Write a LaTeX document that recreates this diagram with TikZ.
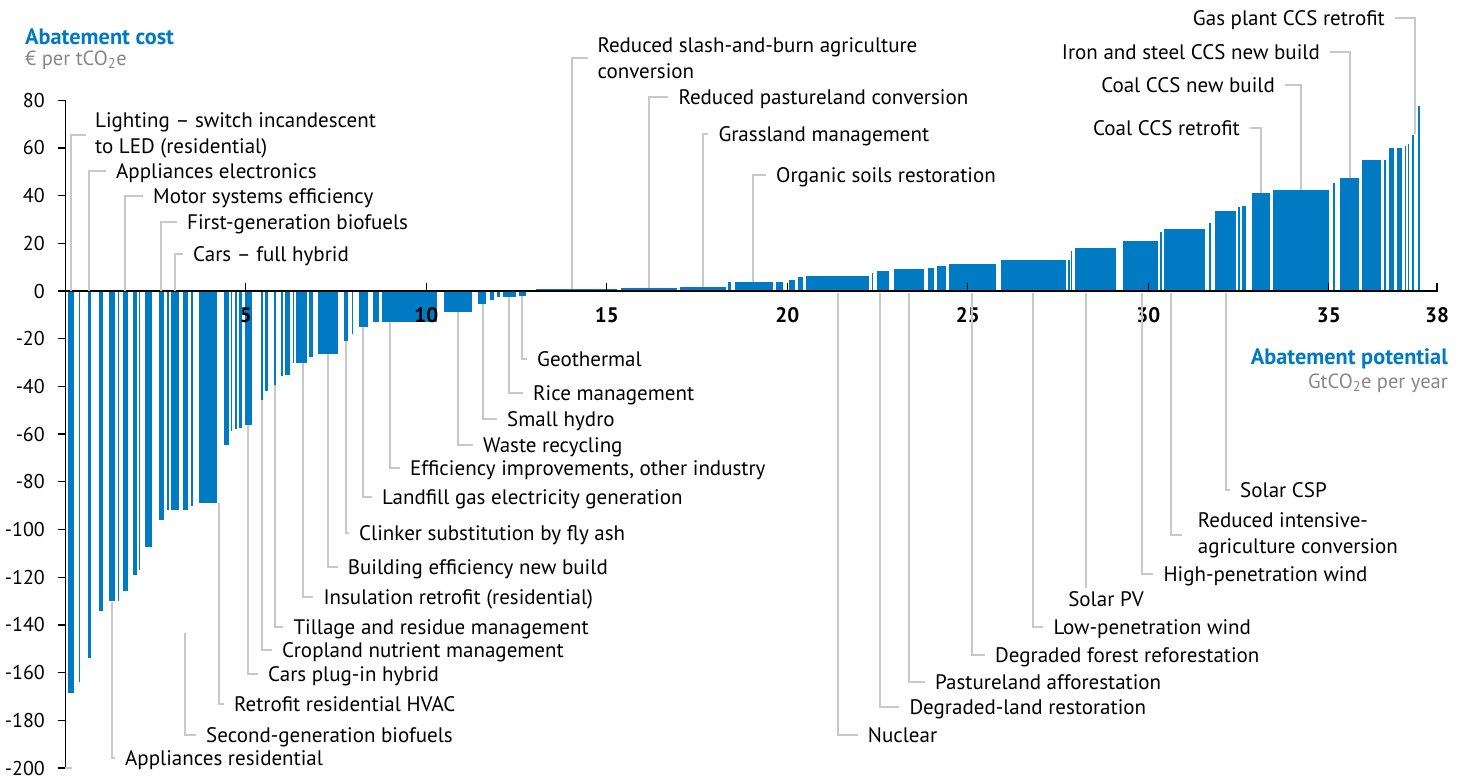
\documentclass[tikz,border=0pt]{standalone}
\usepackage{fontspec}
\setmainfont{PT Sans}
\definecolor{barblue}{RGB}{0,122,194}
\definecolor{leadgray}{RGB}{200,200,200}
\definecolor{unitgray}{RGB}{135,135,135}

\begin{document}
\begin{tikzpicture}[x=1pt, y=-1pt,
    bar/.style = {fill=barblue},
    leader/.style = {draw=leadgray, line width=2pt},
    lab/.style = {anchor=west, inner sep=0pt, font=\fontsize{21}{26}\selectfont, text height=18pt, text depth=4pt},
    labtwo/.style = {anchor=west, inner sep=0pt, font=\fontsize{21}{26}\selectfont, align=left},
    ylab/.style = {anchor=east, inner sep=0pt, font=\fontsize{20}{24}\selectfont},
    xlab/.style = {inner sep=0pt, font=\fontsize{21}{24}\selectfont\bfseries},
    title/.style = {inner sep=0pt, font=\fontsize{22.3}{26}\selectfont\bfseries, text=barblue},
    unit/.style = {inner sep=0pt, font=\fontsize{20.5}{24}\selectfont, text=unitgray}]
    \useasboundingbox (0,0) rectangle (1465,779);

    % bars: left edge / right edge (px) / cost
    \foreach \xa/\xb/\v in {68.3/74/-168.4, 79/80.3/-164, 88/90.7/-154, 99/102.7/-134,
        109/115.3/-130, 117.7/119/-130, 123/128/-125.6, 132.7/137/-119, 139.3/140.3/-117,
        145/152.3/-107.5, 159/164/-95.9, 166.7/168.7/-92, 170.7/179.3/-92, 182.7/188.3/-92,
        191.3/192.7/-90, 199/217.3/-88.7, 223.7/229.3/-64.6, 230.5/232.3/-58.5, 235/237.3/-58,
        239.3/242.3/-57.5, 245.3/252/-56, 261/263.3/-45.5, 265.3/267.7/-42, 274/276.3/-39.5,
        280.7/283.3/-35.6, 285.3/290/-35.2, 293.3/294.3/-30, 296.3/307/-30, 309.3/313.3/-27.8,
        318.3/338/-26.4, 343.7/347.7/-20.8, 351.7/352.7/-18, 358.7/368.3/-15.2, 372.7/379.3/-13.1,
        382/436.7/-12.9, 444/472.3/-8.9, 477.7/486.3/-5.6, 489.7/494/-3.8, 496.7/500/-2.6,
        502.7/516/-2.4, 519/525.7/-2.1,
        536/616.7/0.8, 621/676.7/1.3, 680/725.7/1.6, 728.3/731.3/3.6, 735/773/3.8, 776/782.7/3.8,
        789.3/795.3/4.6, 798/803/5.9, 806.3/869.3/6.3, 872/873.3/7.4, 877/888.7/8.4,
        894/924.3/9.4, 927.7/933.7/9.8, 936.7/946/10.5, 949/996/11.2, 1000.7/1065.7/12.8,
        1068.3/1069.7/13, 1071.3/1072.3/16.6, 1075/1116/17.9, 1122.7/1157.7/20.8,
        1160/1161.7/24.9, 1164/1205/25.8, 1209/1211/28.6, 1214.7/1236/33.5, 1238.3/1240/35.1,
        1242/1245.7/35.5, 1252.3/1270.3/41, 1273/1328.7/42.5, 1333/1335.3/45.3,
        1340.3/1358.7/47.2, 1361.7/1381.3/54.8, 1383.7/1385.7/55, 1389.3/1393.7/60,
        1397/1402/60, 1405/1406.3/61, 1407.7/1409.3/61.6, 1412/1413.7/65.6, 1418/1419.7/77.6}
        \fill[bar] (\xa,291) rectangle (\xb,{291-2.385*\v});

    % axes
    \draw[line width=1.3pt] (65.3,100) -- (65.3,769);
    \draw[leadgray, line width=1.3pt] (65.3,768) -- (72,768);
    \foreach \v in {80,60,...,-200} {
        \draw[line width=1.3pt] (57.7,{291-2.385*\v}) -- (65.3,{291-2.385*\v});
        \node[ylab] (y\v) at (45,{291-2.385*\v}) {\v};
    }
    \draw[line width=2.5pt] (65.3,291) -- (1437.5,291);
    \foreach \g in {5,10,...,35,38} {
        \draw[line width=1.3pt] ({65.3+36.1*\g},291) -- ++(0,-8);
        \node[xlab] (x\g) at ({65.3+36.1*\g},315) {\g};
    }

    % titles
    \node[title, anchor=west] (costtitle) at (25,37) {Abatement cost};
    \node[unit, anchor=west] (costunit) at (25,60) {€ per tCO\textsubscript{2}e};
    \node[title, anchor=east] (pottitle) at (1448,359) {Abatement potential};
    \node[unit, anchor=east] (potunit) at (1448,383) {GtCO\textsubscript{2}e per year};

    % labels with leaders: name / leader x / leader start y / text x / text y / text
    \foreach \n/\xl/\ys/\xt/\yt/\t in {
        applel/89.3/291/116/171/Appliances electronics,
        motor/125.3/291/153/196/Motor systems efficiency,
        firstgen/161.3/291/187/222/First-generation biofuels,
        hybrid/175.3/291/193/254/Cars – full hybrid,
        pastconv/649/288/678.3/97/Reduced pastureland conversion,
        grass/703.3/287/718.3/134/Grassland management,
        organic/753.3/282/776/175/Organic soils restoration,
        appres/112/601.7/125/758/Appliances residential,
        secgen/185.3/633/206/735/Second-generation biofuels,
        hvac/219.3/503/234/704/Retrofit residential HVAC,
        plugin/248.3/425/268/674/Cars plug-in hybrid,
        cropland/262.3/400/282/650/Cropland nutrient management,
        tillage/274.7/385/293.3/627/Tillage and residue management,
        insul/302.7/363/323.3/597/Insulation retrofit (residential),
        building/328.3/354/347.7/567/Building efficiency new build,
        clinker/346/341/359/533/Clinker substitution by fly ash,
        landfill/363.3/327/382/497/Landfill gas electricity generation,
        effind/390/322/410/468/{Efficiency improvements, other industry},
        waste/458.3/312/483/445/Waste recycling,
        hydro/482.7/304/507/419/Small hydro,
        rice/509.3/297/533/393/Rice management,
        geo/521.7/296/537/359/Geothermal,
        nuclear/838.3/293/867.7/735/Nuclear,
        degland/880/293/909.3/707/Degraded-land restoration,
        pastaff/909.3/293/935/682/Pastureland afforestation,
        degforest/972/293/995/655/Degraded forest reforestation,
        lowwind/1033.3/293/1053.3/627/Low-penetration wind,
        highwind/1141.7/293/1163.3/574/High-penetration wind,
        csp/1225.7/293/1240/490/Solar CSP} {
        \coordinate (\n-end) at (\xl,\ys);
        \node[lab] (\n) at (\xt,\yt) {\t};
        \draw[leader] (\n-end) |- ([xshift=-10pt]\n.west);
    }

    % two-line labels
    \coordinate (lighting-end) at (71,291);
    \node[labtwo] (lighting) at (95,135) {Lighting – switch incandescent\\to LED (residential)};
    \draw[leader] (lighting-end) |- ([xshift=-9pt]lighting.west);
    \coordinate (slash-end) at (571.7,289);
    \node[labtwo] (slash) at (597.3,58) {Reduced slash-and-burn agriculture\\conversion};
    \draw[leader] (slash-end) |- ([xshift=-9pt]slash.west);
    \coordinate (intagri-end) at (1170.7,293);
    \node[labtwo] (intagri) at (1197.7,535) {Reduced intensive-\\agriculture conversion};
    \draw[leader] (intagri-end) |- ([xshift=-16pt]intagri.west);

    % Solar PV sits under its leader
    \coordinate (pv-end) at (1086,293);
    \node[lab, anchor=north] (solarpv) at (1106,588) {Solar PV};
    \draw[leader] (pv-end) -- (pv-end |- solarpv.north);

    % CCS labels, text left of the leader
    \foreach \n/\xl/\ys/\xt/\yt/\t in {
        ccsretro/1261/193/1240/128/Coal CCS retrofit,
        ccsnew/1300.7/189.7/1275/85/Coal CCS new build,
        ironccs/1350/178/1320/52/Iron and steel CCS new build,
        gasccs/1415/134/1385/18/Gas plant CCS retrofit} {
        \coordinate (\n-end) at (\xl,\ys);
        \node[lab, anchor=east] (\n) at (\xt,\yt) {\t};
        \draw[leader] (\n-end) |- ([xshift=10pt]\n.east);
    }
\end{tikzpicture}
\end{document}
